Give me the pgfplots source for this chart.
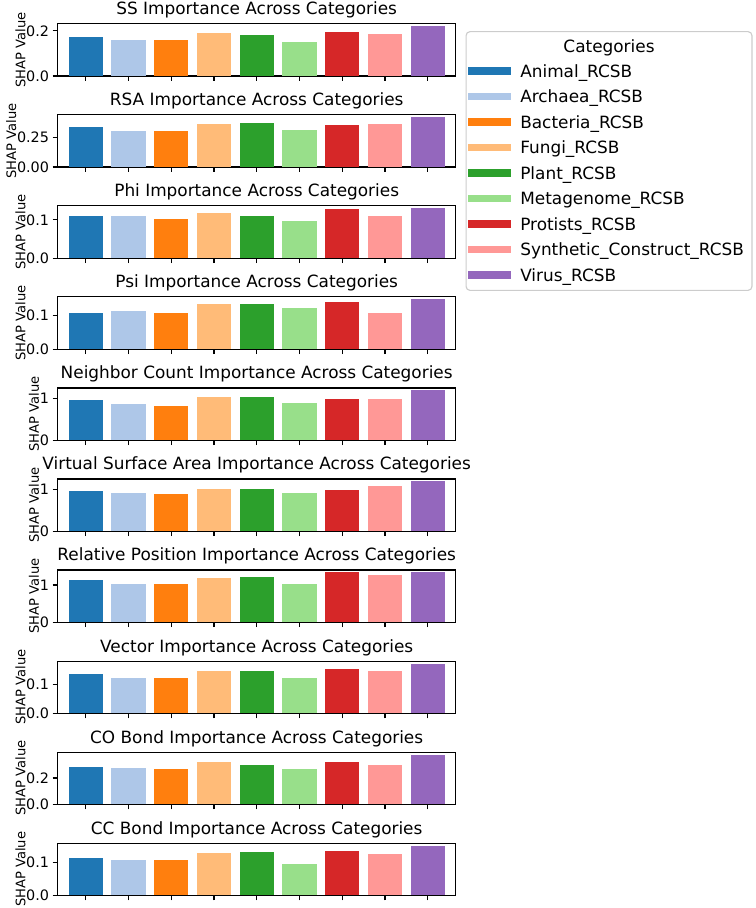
\documentclass[border=0pt]{standalone}
\usepackage{pgfplots}
\usepackage{pgfplotstable}
\pgfplotsset{compat=1.18}
\usepackage{fontspec}
\setmainfont{DejaVu Sans}

% tab20 colours, one per category
\definecolor{c0}{RGB}{31,119,180}
\definecolor{c1}{RGB}{174,199,232}
\definecolor{c2}{RGB}{255,127,14}
\definecolor{c3}{RGB}{255,187,120}
\definecolor{c4}{RGB}{44,160,44}
\definecolor{c5}{RGB}{152,223,138}
\definecolor{c6}{RGB}{214,39,40}
\definecolor{c7}{RGB}{255,152,150}
\definecolor{c8}{RGB}{148,103,189}
\definecolor{legframe}{RGB}{204,204,204}

% mean SHAP value per feature (columns) and category (rows)
\pgfplotstableread{
x SS    RSA   Phi    Psi   NC    VSA   RP    Vec   CO    CC
0 0.174 0.336 0.109  0.108 0.960 0.968 1.125 0.138 0.286 0.112
1 0.159 0.306 0.111  0.114 0.865 0.905 1.027 0.122 0.276 0.107
2 0.158 0.300 0.103  0.108 0.825 0.881 1.027 0.124 0.266 0.105
3 0.190 0.364 0.117  0.134 1.040 1.016 1.196 0.149 0.324 0.126
4 0.183 0.372 0.111  0.133 1.048 1.000 1.223 0.149 0.301 0.131
5 0.152 0.308 0.0965 0.121 0.905 0.905 1.027 0.124 0.271 0.094
6 0.193 0.350 0.129  0.139 0.984 0.984 1.339 0.156 0.324 0.134
7 0.184 0.361 0.111  0.108 0.992 1.079 1.268 0.149 0.301 0.125
8 0.220 0.419 0.130  0.148 1.198 1.190 1.339 0.174 0.377 0.149
}\shapdata

\pgfplotsset{
  panel/.style={
    scale only axis, width=282.9pt, height=37.1pt, anchor=south west,
    xmin=-0.66, xmax=8.66, ymin=0,
    xtick={0,...,8}, xticklabels={,,,,,,,,},
    xtick pos=bottom, ytick pos=left,
    tick align=outside, major tick length=3.5pt,
    every tick/.style={black, line width=0.8pt},
    axis line style={black, line width=0.8pt},
    ylabel={SHAP Value},
    ylabel style={font=\fontsize{9.3}{11}\selectfont, inner sep=0pt},
    ylabel shift=0.3pt,
    yticklabel style={font=\fontsize{10.2}{12}\selectfont, inner sep=0pt},
    yticklabel shift=2.3pt,
    every axis title shift=0pt,
    title style={at={(0.5,1)}, anchor=base, yshift=6.4pt, inner sep=0pt,
                 font=\fontsize{12}{14}\selectfont},
    /pgf/number format/assume math mode=true,
    legend cell align=left,
    legend image code/.code={
      \fill[##1] (0pt,-2.6pt) rectangle (30pt,2.6pt);
      \path (36.9pt,0pt);
    },
  },
}

% one panel: #1 bottom, #2 column, #3 title, #4 ymax, #5 ticks, #6 tick labels, #7 extra
\newcommand\panel[7]{%
  \begin{axis}[panel, at={(40.8pt,#1)}, title={#3}, ymax=#4,
               ytick={#5}, yticklabels={#6}]
    \pgfplotsinvokeforeach{0,...,8}{%
      \addplot[ybar, bar width=0.8, draw=none, fill=c##1]
        table[x=x, y=#2, restrict x to domain=##1:##1] {\shapdata};
    }
    #7
  \end{axis}%
}

\begin{document}
\begin{tikzpicture}
  \path[use as bounding box] (0pt,0pt) rectangle (536.05pt,644.68pt);

  % legend frame and heading
  \draw[legframe, line width=0.8pt, rounded corners=2.8pt]
    (330.9pt,438.5pt) rectangle (533.9pt,622.2pt);
  \node[anchor=base, inner sep=0pt, font=\fontsize{12}{14}\selectfont]
    at (432.4pt,607.6pt) {Categories};

  \panel{590.7pt}{SS}{SS Importance Across Categories}{0.231}{0,0.2}{0.0,0.2}{%
    \pgfplotsset{legend style={draw=none, fill=none, at={(1.0304,0.280)},
      anchor=north west, inner sep=0pt, row sep=4.9pt,
      font=\fontsize{12}{14}\selectfont,
      nodes={inner sep=0pt, text height=11pt, text depth=2.2pt}}}
    \legend{Animal\_RCSB,Archaea\_RCSB,Bacteria\_RCSB,Fungi\_RCSB,Plant\_RCSB,
      Metagenome\_RCSB,Protists\_RCSB,Synthetic\_Construct\_RCSB,Virus\_RCSB}}
  \panel{526.1pt}{RSA}{RSA Importance Across Categories}{0.440}{0,0.25}{0.00,0.25}{}
  \panel{461.4pt}{Phi}{Phi Importance Across Categories}{0.1365}{0,0.1}{0.0,0.1}{}
  \panel{396.8pt}{Psi}{Psi Importance Across Categories}{0.1554}{0,0.1}{0.0,0.1}{}
  \panel{332.1pt}{NC}{Neighbor Count Importance Across Categories}{1.258}{0,1}{0,1}{}
  \panel{267.5pt}{VSA}{Virtual Surface Area Importance Across Categories}{1.2495}{0,1}{0,1}{}
  \panel{202.9pt}{RP}{Relative Position Importance Across Categories}{1.406}{0,1}{0,1}{}
  \panel{138.2pt}{Vec}{Vector Importance Across Categories}{0.1827}{0,0.1}{0.0,0.1}{}
  \panel{73.6pt}{CO}{CO Bond Importance Across Categories}{0.396}{0,0.2}{0.0,0.2}{}
  \panel{8.9pt}{CC}{CC Bond Importance Across Categories}{0.1565}{0,0.1}{0.0,0.1}{}
\end{tikzpicture}
\end{document}
